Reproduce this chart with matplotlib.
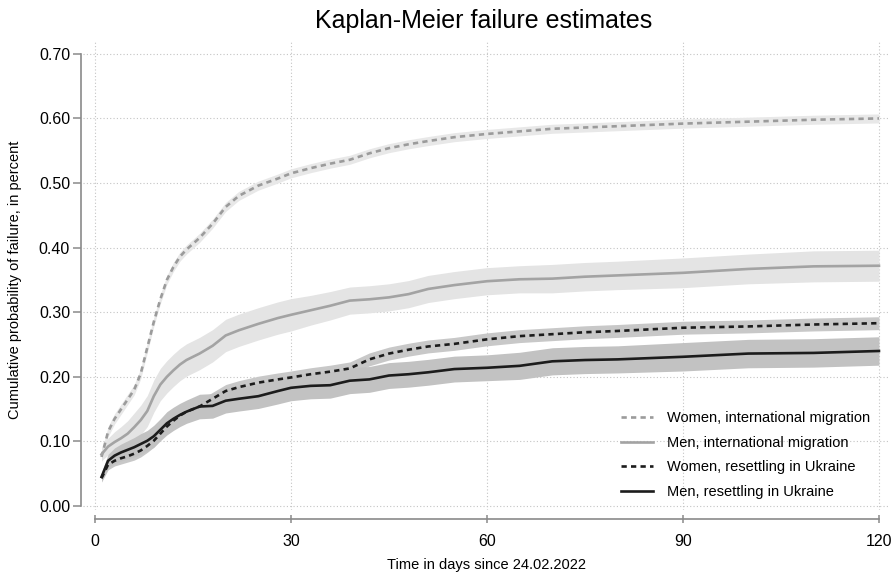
import numpy as np
import matplotlib.pyplot as plt

plt.rcParams['font.family'] = ['Liberation Sans', 'DejaVu Sans']

# days since 24.02.2022 at which the curves are read
days = [1, 2, 3, 4, 5, 6, 7, 8, 9, 10, 11, 12, 13, 14, 16, 18, 20, 22, 25, 28,
        30, 33, 36, 39, 42, 45, 48, 51, 55, 60, 65, 70, 75, 80, 90, 100, 110, 120]

# failure estimates
women_intl = [0.076, 0.115, 0.135, 0.150, 0.165, 0.180, 0.205, 0.245, 0.285, 0.320,
              0.350, 0.370, 0.386, 0.397, 0.415, 0.437, 0.463, 0.480, 0.496, 0.507,
              0.515, 0.523, 0.530, 0.536, 0.546, 0.554, 0.560, 0.565, 0.571, 0.576,
              0.580, 0.584, 0.586, 0.588, 0.592, 0.595, 0.598, 0.600]
men_intl = [0.080, 0.092, 0.099, 0.105, 0.112, 0.122, 0.133, 0.147, 0.170, 0.188,
            0.200, 0.210, 0.219, 0.226, 0.236, 0.248, 0.264, 0.272, 0.282, 0.291,
            0.296, 0.303, 0.310, 0.318, 0.320, 0.323, 0.328, 0.336, 0.342, 0.348,
            0.351, 0.352, 0.355, 0.357, 0.361, 0.367, 0.371, 0.372]
women_ukr = [0.043, 0.064, 0.070, 0.074, 0.077, 0.081, 0.086, 0.093, 0.101, 0.112,
             0.123, 0.132, 0.140, 0.146, 0.154, 0.166, 0.178, 0.184, 0.191, 0.196,
             0.199, 0.204, 0.208, 0.213, 0.227, 0.236, 0.242, 0.247, 0.251, 0.258,
             0.263, 0.266, 0.269, 0.271, 0.276, 0.278, 0.281, 0.283]
men_ukr = [0.045, 0.070, 0.078, 0.083, 0.087, 0.091, 0.096, 0.101, 0.108, 0.118,
           0.128, 0.135, 0.141, 0.146, 0.154, 0.155, 0.163, 0.166, 0.170, 0.178,
           0.183, 0.186, 0.187, 0.194, 0.196, 0.202, 0.204, 0.207, 0.212, 0.214,
           0.217, 0.224, 0.226, 0.227, 0.231, 0.236, 0.237, 0.240]

# half width of the confidence bands
women_intl_ci = [0.008] * 8 + [0.007] * 30
men_intl_ci = [0.010, 0.013, 0.016, 0.018, 0.020, 0.022, 0.023, 0.024, 0.025, 0.025,
               0.025, 0.025, 0.025, 0.025, 0.025, 0.025, 0.025, 0.025, 0.025, 0.025,
               0.025, 0.023, 0.022, 0.021, 0.021, 0.021, 0.021, 0.021, 0.021, 0.021,
               0.021, 0.022, 0.022, 0.022, 0.023, 0.023, 0.024, 0.024]
women_ukr_ci = [0.006, 0.008, 0.008, 0.009, 0.009] + [0.010] * 33
men_ukr_ci = [0.007, 0.010, 0.012, 0.013, 0.014, 0.015, 0.016, 0.016, 0.017, 0.017,
              0.018, 0.018, 0.018, 0.018, 0.019, 0.019, 0.019, 0.019, 0.019, 0.020,
              0.020, 0.020, 0.020, 0.020, 0.020, 0.020, 0.020, 0.020, 0.020, 0.020,
              0.021, 0.021, 0.021, 0.021, 0.022, 0.022, 0.022, 0.022]

labels = ["Women, international migration", "Men, international migration",
          "Women, resettling in Ukraine", "Men, resettling in Ukraine"]

x_ticks = [0, 30, 60, 90, 120]
y_ticks = [0.0, 0.1, 0.2, 0.3, 0.4, 0.5, 0.6, 0.7]

series = [
    (women_intl, women_intl_ci, "#9b9b9b", "#e8e8e8", (0, (2, 1.6))),
    (men_intl, men_intl_ci, "#a3a3a3", "#e4e4e4", "-"),
    (women_ukr, women_ukr_ci, "#1c1c1c", "#c8c8c8", (0, (2, 1.6))),
    (men_ukr, men_ukr_ci, "#1c1c1c", "#c2c2c2", "-"),
]

fig = plt.figure(figsize=(8.94, 5.74), dpi=100)
ax = fig.add_axes([0.0931, 0.1117, 0.9025, 0.817])

t = np.array(days)
# bands first so the lines sit on top
for est, ci, lc, bc, ls in series:
    est = np.array(est)
    ci = np.array(ci)
    ax.fill_between(t, est - ci, est + ci, color=bc, lw=0, zorder=2)

handles = []
for (est, ci, lc, bc, ls), lab in zip(series, labels):
    h, = ax.plot(t, est, color=lc, lw=1.9, linestyle=ls, zorder=3, label=lab)
    handles.append(h)

ax.set_xlim(-1.8, 121.7)
ax.set_ylim(-0.006, 0.72)
ax.set_xticks(x_ticks)
ax.set_yticks(y_ticks)
ax.set_yticklabels([f"{v:.2f}" for v in y_ticks])

ax.grid(True, linestyle=(0, (1, 2)), color="#c4c4c4", lw=0.8, zorder=0)
ax.set_axisbelow(True)

for s in ["top", "right"]:
    ax.spines[s].set_visible(False)
ax.spines["left"].set_position(("outward", 1.5))
ax.spines["left"].set_bounds(0, 0.7)
ax.spines["bottom"].set_position(("outward", 6.5))
ax.spines["bottom"].set_bounds(0, 120)
for s in ["left", "bottom"]:
    ax.spines[s].set_color("#8a8a8a")
    ax.spines[s].set_linewidth(1.2)

ax.tick_params(axis="y", direction="out", length=6, width=1.1, color="#8a8a8a",
               labelsize=11.5, pad=2)
ax.tick_params(axis="x", direction="inout", length=6, width=1.1, color="#8a8a8a",
               labelsize=11.5, pad=8)

ax.set_xlabel("Time in days since 24.02.2022", fontsize=10.5, labelpad=6)
fig.text(0.017, 0.512, "Cumulative probability of failure, in percent",
         rotation=90, ha="center", va="center", fontsize=10.5)
fig.text(0.541, 0.963, "Kaplan-Meier failure estimates", ha="center", va="center",
         fontsize=18)

ax.legend(handles=handles, loc="lower left", bbox_to_anchor=(621 / 894, 1 - 499 / 574),
          bbox_transform=fig.transFigure, frameon=False, fontsize=10.5,
          handlelength=2.2, handletextpad=0.95, labelspacing=0.73, borderpad=0,
          borderaxespad=0)

fig.savefig("out.png", dpi=100, facecolor="white")
